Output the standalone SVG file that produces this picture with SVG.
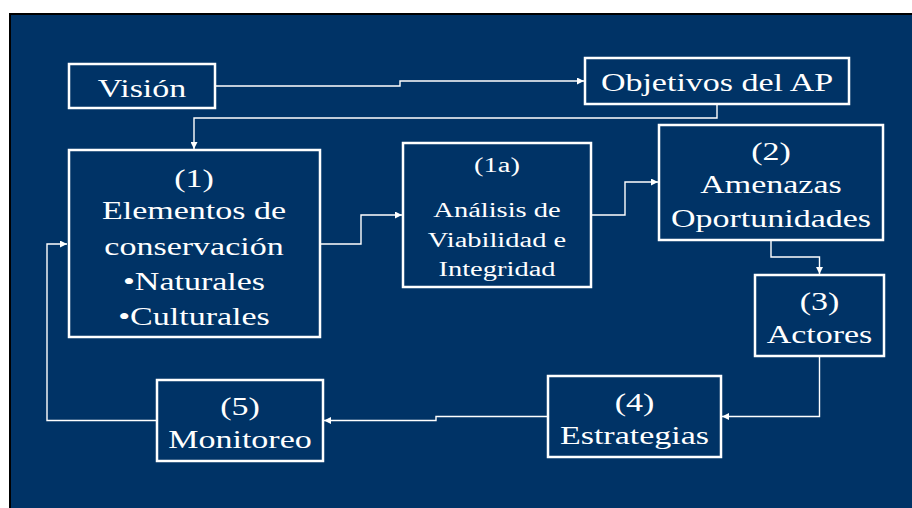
<svg xmlns="http://www.w3.org/2000/svg" width="912" height="508" viewBox="0 0 912 508">
<style>
.box{fill:none;stroke:#ffffff;stroke-width:2.5}
.t{font-family:"Liberation Serif","Times New Roman",serif;fill:#ffffff;text-anchor:middle;font-size:34px}
.s{font-size:28.5px}
.c{fill:none;stroke:#ffffff;stroke-width:1.4;marker-end:url(#ah)}
</style>
<defs>
<marker id="ah" viewBox="0 0 10 10" refX="10" refY="5" markerWidth="7" markerHeight="7" markerUnits="userSpaceOnUse" orient="auto">
<path d="M0,0 L10,5 L0,10 Z" fill="#ffffff"/>
</marker>
</defs>
<rect x="0" y="0" width="912" height="508" fill="#ffffff"/>
<rect x="9" y="13" width="903" height="495" fill="#000000"/>
<rect x="11" y="15" width="901" height="493" fill="#003366"/>

<g id="connectors">
<path class="c" d="M216,86 H400 V81 H584"/>
<path class="c" d="M717,104 V118 H194 V149"/>
<path class="c" d="M320,244 H361 V215 H402"/>
<path class="c" d="M591,215 H625 V182 H658"/>
<path class="c" d="M771,240 V257 H819.5 V274"/>
<path class="c" d="M819.5,356 V416.5 H722"/>
<path class="c" d="M548,416.5 H436 V420.5 H324"/>
<path class="c" d="M157,420.5 H47 V244 H67"/>
</g>

<g id="vision">
<rect class="box" x="69" y="64" width="146" height="44"/>
<text class="t" transform="translate(142,97) scale(1,0.73)">Visión</text>
</g>
<g id="objetivos">
<rect class="box" x="585" y="58" width="264" height="46"/>
<text class="t" transform="translate(717,91) scale(1,0.73)">Objetivos del AP</text>
</g>
<g id="n1">
<rect class="box" x="69" y="150" width="251" height="187"/>
<text class="t" transform="translate(194,186.5) scale(1,0.73)">(1)</text>
<text class="t" transform="translate(194,219) scale(1,0.73)">Elementos de</text>
<text class="t" transform="translate(194,254.5) scale(1,0.73)">conservación</text>
<text class="t" transform="translate(194,289.5) scale(1,0.73)">•Naturales</text>
<text class="t" transform="translate(194,324.5) scale(1,0.73)">•Culturales</text>
</g>
<g id="n1a">
<rect class="box" x="403" y="143" width="188" height="144"/>
<text class="t s" transform="translate(497,171.5) scale(1,0.73)">(1a)</text>
<text class="t s" transform="translate(497,217) scale(1,0.73)">Análisis de</text>
<text class="t s" transform="translate(497,246.5) scale(1,0.73)">Viabilidad e</text>
<text class="t s" transform="translate(497,275.5) scale(1,0.73)">Integridad</text>
</g>
<g id="n2">
<rect class="box" x="659" y="125" width="224" height="115"/>
<text class="t" transform="translate(771,160) scale(1,0.73)">(2)</text>
<text class="t" transform="translate(771,193) scale(1,0.73)">Amenazas</text>
<text class="t" transform="translate(771,226.5) scale(1,0.73)">Oportunidades</text>
</g>
<g id="n3">
<rect class="box" x="755" y="275" width="129" height="81"/>
<text class="t" transform="translate(819.5,310) scale(1,0.73)">(3)</text>
<text class="t" transform="translate(819.5,343) scale(1,0.73)">Actores</text>
</g>
<g id="n4">
<rect class="box" x="548" y="376" width="173" height="81"/>
<text class="t" transform="translate(634.5,411) scale(1,0.73)">(4)</text>
<text class="t" transform="translate(634.5,444) scale(1,0.73)">Estrategias</text>
</g>
<g id="n5">
<rect class="box" x="157" y="380" width="166" height="81"/>
<text class="t" transform="translate(240,415) scale(1,0.73)">(5)</text>
<text class="t" transform="translate(240,448) scale(1,0.73)">Monitoreo</text>
</g>
</svg>
